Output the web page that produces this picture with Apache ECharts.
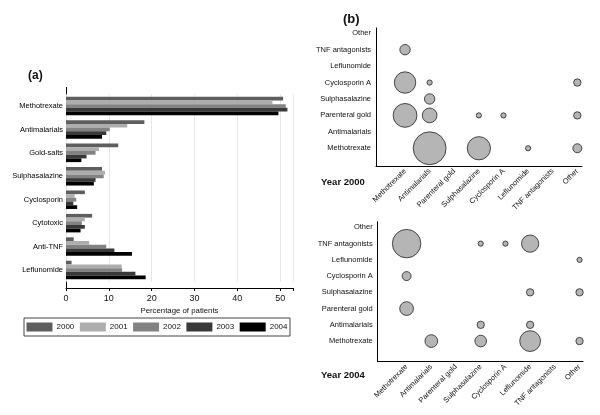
<!DOCTYPE html>
<html><head><meta charset="utf-8">
<script src="https://cdn.jsdelivr.net/npm/echarts@6/dist/echarts.min.js"></script>
<style>html,body{margin:0;padding:0;background:#fff}#c{width:600px;height:415px}</style>
</head><body><div id="c"></div>
<script>
// ---- Panel (a) data ----
const drugsA = ['Methotrexate','Antimalarials','Gold-salts','Sulphasalazine','Cyclosporin','Cytotoxic','Anti-TNF','Leflunomide'];
const years = ['2000','2001','2002','2003','2004'];
const pct2000 = [50.7, 18.3, 12.2, 8.4, 4.4, 6.1, 1.8, 1.3];
const pct2001 = [48.2, 14.3, 7.7, 9.1, 2.0, 4.4, 5.4, 13.0];
const pct2002 = [51.3, 10.2, 6.9, 8.8, 2.4, 3.7, 9.4, 13.1];
const pct2003 = [51.7, 9.4, 4.8, 6.9, 1.7, 4.4, 11.3, 16.2];
const pct2004 = [49.6, 8.4, 3.6, 6.5, 2.6, 3.4, 15.4, 18.6];
const xTicksA = [0, 10, 20, 30, 40, 50];

// ---- Panel (b) data ----
const drugsB = ['Methotrexate','Antimalarials','Parenteral gold','Sulphasalazine','Cyclosporin A','Leflunomide','TNF antagonists','Other'];
const combos2000 = [
  ['Methotrexate','TNF antagonists',4],
  ['Methotrexate','Cyclosporin A',17],
  ['Antimalarials','Cyclosporin A',1],
  ['Other','Cyclosporin A',2],
  ['Antimalarials','Sulphasalazine',4],
  ['Methotrexate','Parenteral gold',21],
  ['Antimalarials','Parenteral gold',8],
  ['Sulphasalazine','Parenteral gold',1],
  ['Cyclosporin A','Parenteral gold',1],
  ['Other','Parenteral gold',2],
  ['Antimalarials','Methotrexate',40],
  ['Sulphasalazine','Methotrexate',20],
  ['Leflunomide','Methotrexate',1],
  ['Other','Methotrexate',3]
];
const combos2004 = [
  ['Methotrexate','TNF antagonists',30],
  ['Sulphasalazine','TNF antagonists',1],
  ['Cyclosporin A','TNF antagonists',1],
  ['Leflunomide','TNF antagonists',11],
  ['Other','Leflunomide',1],
  ['Methotrexate','Cyclosporin A',3],
  ['Leflunomide','Sulphasalazine',2],
  ['Other','Sulphasalazine',2],
  ['Methotrexate','Parenteral gold',7],
  ['Sulphasalazine','Antimalarials',2],
  ['Leflunomide','Antimalarials',2],
  ['Antimalarials','Methotrexate',6],
  ['Sulphasalazine','Methotrexate',5],
  ['Leflunomide','Methotrexate',16],
  ['Other','Methotrexate',2]
];

const FONT = 'Liberation Sans, Arial, sans-serif';
const barColors = ['#5e5e5e','#adadad','#828282','#393939','#000000'];
const pctSeries = [pct2000, pct2001, pct2002, pct2003, pct2004];
const idxB = name => drugsB.indexOf(name);
const toPts = arr => arr.map(d => [idxB(d[0]), idxB(d[1]), d[2]]);
const bubbleSize = v => 5.2 * Math.sqrt(v[2]);
const drugIdx = [0,1,2,3,4,5,6,7];

const chart = echarts.init(document.getElementById('c'), null, {renderer:'canvas'});

const bubbleX = (gi) => ({
  type:'value', gridIndex: gi, min: gi===1 ? -1.18 : -1.17, max: gi===1 ? 7.19 : 7.14,
  axisLine:{show:true, onZero:false, lineStyle:{color:'#000', width:1}},
  axisTick:{show:false}, splitLine:{show:false},
  axisLabel:{customValues: drugIdx, formatter: v => drugsB[Math.round(v)] || '', rotate:45, margin:4,
    fontSize:7.5, color:'#111', fontFamily:FONT}
});
const bubbleY = (gi) => ({
  type:'value', gridIndex: gi, min: gi===1 ? -1.08 : -1.27, max: gi===1 ? 7.32 : 7.35,
  axisLine:{show:true, onZero:false, lineStyle:{color:'#000', width:1}},
  axisTick:{show:false}, splitLine:{show:false},
  axisLabel:{customValues: drugIdx, formatter: v => drugsB[Math.round(v)] || '', margin:5,
    fontSize:7.5, color:'#111', fontFamily:FONT}
});

const option = {
  animation:false,
  backgroundColor:'#fff',
  textStyle:{fontFamily:FONT},
  grid:[
    {left:66, right:307, top:94.3, height:187.4},
    {left:376, right:18, top:28, bottom:249},
    {left:377.7, right:17, top:221.7, bottom:53.3}
  ],
  legend:{
    data: years, left:24, top:318, orient:'horizontal',
    icon:'rect', itemWidth:26, itemHeight:9, itemGap:5.5,
    padding:[4.5,2.5], borderColor:'#444', borderWidth:1, backgroundColor:'#fff',
    textStyle:{fontSize:8, color:'#111', fontFamily:FONT, padding:[0,0,0,-1]}
  },
  xAxis:[
    {type:'value', gridIndex:0, min:0, max:53, interval:10, offset:6.3,
     axisLine:{show:true, lineStyle:{color:'#000', width:1}},
     axisTick:{show:true, length:3, lineStyle:{color:'#000'}},
     axisLabel:{customValues:xTicksA, fontSize:9, color:'#111', margin:6, fontFamily:FONT},
     splitLine:{show:true, lineStyle:{color:'#e6e6e6', width:1}},
     name:'Percentage of patients', nameLocation:'middle', nameGap:19,
     nameTextStyle:{fontSize:7.8, color:'#111', fontFamily:FONT}},
    bubbleX(1), bubbleX(2)
  ],
  yAxis:[
    {type:'category', gridIndex:0, data:drugsA, inverse:true,
     axisLine:{show:false}, axisTick:{show:false},
     axisLabel:{fontSize:7.5, color:'#000', margin:3, fontFamily:FONT}},
    bubbleY(1), bubbleY(2)
  ],
  series: years.map((y,i)=>({
    name:y, type:'bar', xAxisIndex:0, yAxisIndex:0, data:pctSeries[i],
    barWidth:3.7, barGap:'0%', itemStyle:{color:barColors[i]}
  })).concat([
    {type:'scatter', xAxisIndex:1, yAxisIndex:1, data:toPts(combos2000), symbolSize:bubbleSize,
     itemStyle:{color:'#b5b5b5', borderColor:'#222', borderWidth:0.8, opacity:1}},
    {type:'scatter', xAxisIndex:2, yAxisIndex:2, data:toPts(combos2004), symbolSize:bubbleSize,
     itemStyle:{color:'#b5b5b5', borderColor:'#222', borderWidth:0.8, opacity:1}}
  ]),
  graphic:[
    {type:'line', shape:{x1:66.5, y1:87, x2:66.5, y2:288}, style:{stroke:'#000', lineWidth:1}, silent:true},
    {type:'text', left:28, top:70, style:{text:'(a)', font:'bold 12px '+FONT, fill:'#111'}},
    {type:'text', left:343, top:13, style:{text:'(b)', font:'bold 13px '+FONT, fill:'#111'}},
    {type:'text', left:321, top:177, style:{text:'Year 2000', font:'bold 9.5px '+FONT, fill:'#111'}},
    {type:'text', left:321, top:370, style:{text:'Year 2004', font:'bold 9.5px '+FONT, fill:'#111'}}
  ]
};
chart.setOption(option);
</script></body></html>
